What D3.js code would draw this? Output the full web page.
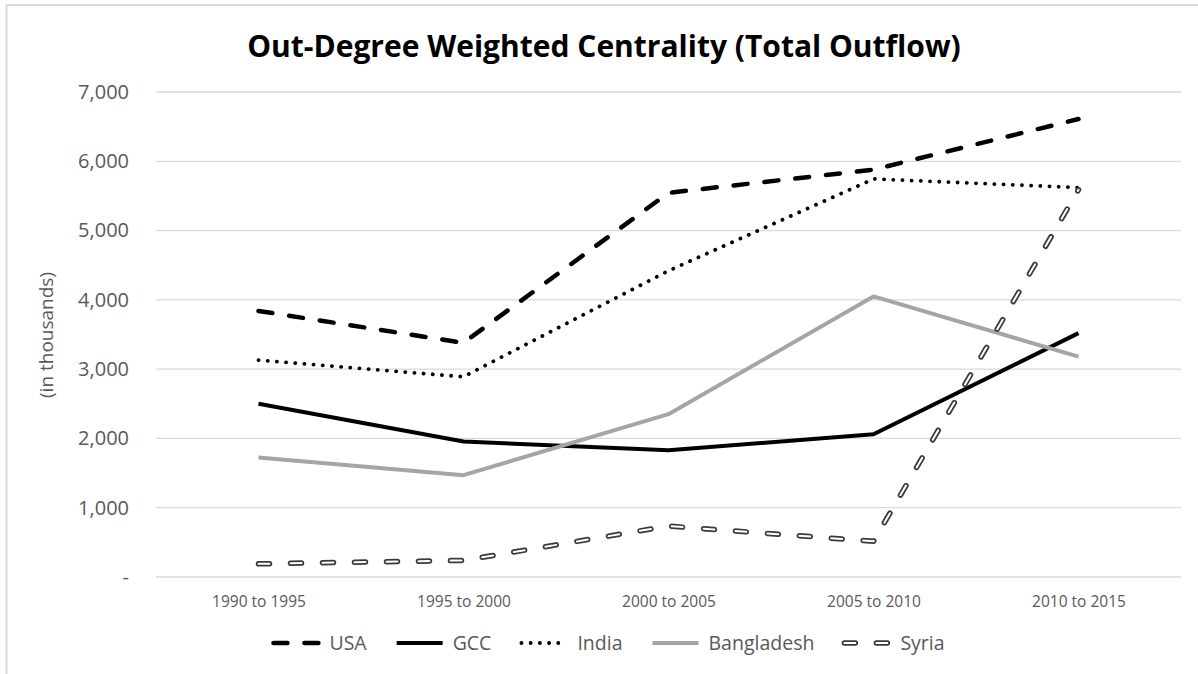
<!DOCTYPE html>
<html>
<head>
<meta charset="utf-8">
<script src="https://cdn.jsdelivr.net/npm/d3@7"></script>
<style>
  body { margin: 0; background: #fff; }
  svg { display: block; font-family: "Open Sans", Lato, sans-serif; }
</style>
</head>
<body>
<div id="chart"></div>
<script>
// data (in thousands)
const periods = ["1990 to 1995", "1995 to 2000", "2000 to 2005", "2005 to 2010", "2010 to 2015"];
const usa = [3840, 3380, 5545, 5880, 6610];
const gcc = [2500, 1955, 1830, 2060, 3520];
const india = [3130, 2890, 4420, 5745, 5620];
const bangladesh = [1725, 1470, 2350, 4050, 3180];
const syria = [190, 240, 735, 515, 5590];
const yTicks = [0, 1000, 2000, 3000, 4000, 5000, 6000, 7000];

const W = 1198, H = 674;
const margin = {top: 92, right: 17, bottom: 97, left: 156};

const svg = d3.select("#chart").append("svg")
    .attr("width", W)
    .attr("height", H);

// frame (only top/left edges show in the reference)
svg.append("rect")
    .attr("x", 6.5).attr("y", 5)
    .attr("width", W + 20).attr("height", H + 20)
    .attr("fill", "none")
    .attr("stroke", "#d9d9d9")
    .attr("stroke-width", 2);

const x = d3.scalePoint()
    .domain(periods)
    .range([margin.left, W - margin.right])
    .padding(0.5);

const y = d3.scaleLinear()
    .domain([0, 7000])
    .range([H - margin.bottom, margin.top]);

// gridlines
svg.append("g")
    .selectAll("line")
    .data(yTicks)
    .enter().append("line")
    .attr("x1", margin.left)
    .attr("x2", W - margin.right)
    .attr("y1", d => y(d))
    .attr("y2", d => y(d))
    .attr("stroke", "#d9d9d9")
    .attr("stroke-width", 1.3);

// y axis labels
const yAxis = svg.append("g")
    .attr("transform", "translate(" + (margin.left - 27) + ",0)")
    .call(d3.axisLeft(y).tickValues(yTicks).tickSize(0)
        .tickFormat(d => d === 0 ? "-" : d3.format(",")(d)));
yAxis.select(".domain").remove();
yAxis.selectAll("text")
    .attr("x", 0)
    .attr("fill", "#595959")
    .style("font-size", "20px")
    .style("font-family", "\"Open Sans\", sans-serif");

// x axis labels
const xAxis = svg.append("g")
    .attr("transform", "translate(0," + (H - margin.bottom + 25) + ")")
    .call(d3.axisBottom(x).tickSize(0));
xAxis.select(".domain").remove();
xAxis.selectAll("text")
    .attr("y", 0)
    .attr("dy", "0.35em")
    .attr("fill", "#595959")
    .style("font-size", "15.5px")
    .style("font-family", "\"Open Sans\", sans-serif");

// y axis title
svg.append("text")
    .attr("transform", "translate(46,335) rotate(-90)")
    .attr("text-anchor", "middle")
    .attr("dy", "0.35em")
    .attr("fill", "#595959")
    .style("font-size", "19px")
    .text("(in thousands)");

// title
svg.append("text")
    .attr("x", 604)
    .attr("y", 57)
    .attr("text-anchor", "middle")
    .attr("fill", "#000")
    .style("font-size", "30px")
    .style("font-weight", "bold")
    .text("Out-Degree Weighted Centrality (Total Outflow)");

// series and their line styles
const series = [
    {name: "USA", values: usa, styles: [{stroke: "#000", width: 4.5, dash: "14,17", cap: "round"}]},
    {name: "GCC", values: gcc, styles: [{stroke: "#000", width: 4, dash: null, cap: "butt"}]},
    {name: "India", values: india, styles: [{stroke: "#000", width: 3.8, dash: "0.1,9.1", cap: "round"}]},
    {name: "Bangladesh", values: bangladesh, styles: [{stroke: "#a5a5a5", width: 4, dash: null, cap: "butt"}]},
    {name: "Syria", values: syria, styles: [
        {stroke: "#3a3a3a", width: 5.5, dash: "11,21", cap: "round"},
        {stroke: "#fff", width: 2, dash: "11,21", cap: "round"}]}
];

const line = d3.line()
    .x((d, i) => x(periods[i]))
    .y(d => y(d));

function drawStyled(sel, s, d) {
    s.styles.forEach(st => {
        sel.append("path")
            .attr("d", d)
            .attr("fill", "none")
            .attr("stroke", st.stroke)
            .attr("stroke-width", st.width)
            .attr("stroke-dasharray", st.dash)
            .attr("stroke-linecap", st.cap)
            .attr("stroke-linejoin", "round");
    });
}

const lines = svg.append("g");
series.forEach(s => drawStyled(lines.append("g"), s, line(s.values)));

// legend
const legend = svg.append("g");
let lx = 0;
series.forEach(s => {
    const g = legend.append("g");
    drawStyled(g, s, "M2,0H48");
    const t = g.append("text")
        .attr("x", 58)
        .attr("dy", "0.35em")
        .attr("fill", "#595959")
        .style("font-size", "19.5px")
        .text(s.name);
    const w = 58 + t.node().getComputedTextLength();
    g.attr("transform", "translate(" + lx + ",0)");
    lx += w + 28;
});
const total = lx - 28;
legend.attr("transform", "translate(" + (608 - total / 2) + ",643)");
</script>
</body>
</html>
